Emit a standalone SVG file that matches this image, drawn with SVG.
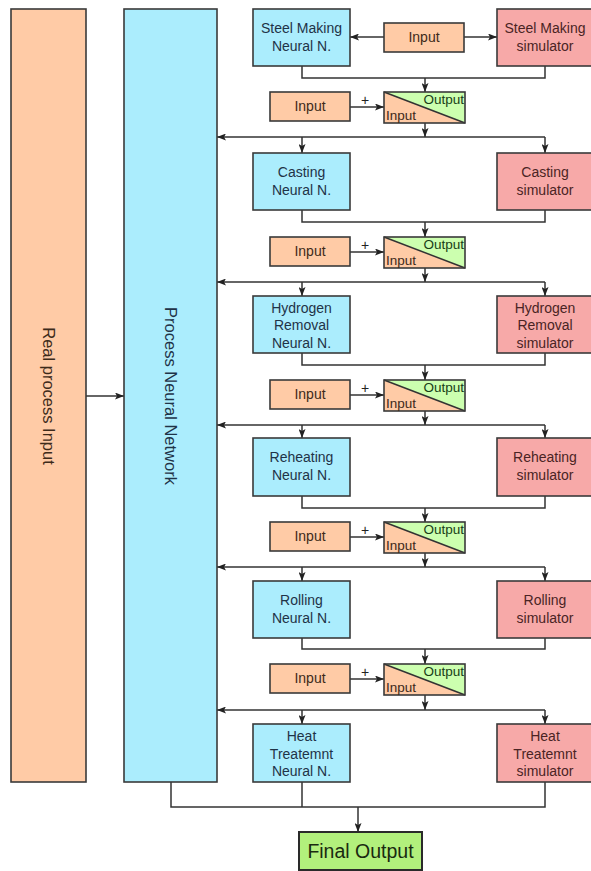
<svg xmlns="http://www.w3.org/2000/svg" width="591" height="871" viewBox="0 0 591 871">
<defs>
<marker id="ah" markerUnits="userSpaceOnUse" markerWidth="9" markerHeight="7" refX="9" refY="3.5" orient="auto">
<path d="M0,0 L9,3.5 L0,7 L2,3.5 z" fill="#222"/>
</marker>
<style>
.box{stroke:#3a3a3a;stroke-width:1.6}
.nn{fill:#abedfd}
.sim{fill:#f7a9a8}
.inp{fill:#ffcba6}
.grn{fill:#ccffaf}
.t{font-family:"Liberation Sans",Arial,sans-serif;font-size:14px;text-anchor:middle}
.tn{fill:#1f3347}
.ts{fill:#4a2424}
.ti{fill:#3d2a1a}
.so{font-family:"Liberation Sans",Arial,sans-serif;font-size:13.5px;fill:#174017;text-anchor:end}
.si{font-family:"Liberation Sans",Arial,sans-serif;font-size:13.5px;fill:#3d2a1a}
.pl{font-family:"Liberation Sans",Arial,sans-serif;font-size:14px;fill:#222;text-anchor:middle}
.c{fill:none;stroke:#333;stroke-width:1.5}
.a{fill:none;stroke:#333;stroke-width:1.5;marker-end:url(#ah)}
</style>
</defs>
<rect width="591" height="871" fill="#fff"/>

<g id="connectors">
<path class="a" d="M86,396 H124"/>
<path class="a" d="M384,37 H350"/>
<path class="a" d="M464,37 H497"/>
<!-- row 0 -->
<path class="c" d="M302,66 V78 H545 V66"/>
<path class="a" d="M425,78 V92"/>
<path class="a" d="M350,107 H384"/>
<path class="a" d="M425,123 V137"/>
<path class="a" d="M545,137 H217"/>
<path class="a" d="M302,137 V153"/>
<path class="a" d="M545,137 V153"/>
<!-- row 1 -->
<path class="c" d="M302,210 V222 H545 V210"/>
<path class="a" d="M425,222 V237"/>
<path class="a" d="M350,252 H384"/>
<path class="a" d="M425,268 V282"/>
<path class="a" d="M545,282 H217"/>
<path class="a" d="M302,282 V296"/>
<path class="a" d="M545,282 V296"/>
<!-- row 2 -->
<path class="c" d="M302,353 V365 H545 V353"/>
<path class="a" d="M425,365 V380"/>
<path class="a" d="M350,395 H384"/>
<path class="a" d="M425,411 V425"/>
<path class="a" d="M545,425 H217"/>
<path class="a" d="M302,425 V438"/>
<path class="a" d="M545,425 V438"/>
<!-- row 3 -->
<path class="c" d="M302,496 V508 H545 V496"/>
<path class="a" d="M425,508 V522"/>
<path class="a" d="M350,537 H384"/>
<path class="a" d="M425,553 V567"/>
<path class="a" d="M545,567 H217"/>
<path class="a" d="M302,567 V581"/>
<path class="a" d="M545,567 V581"/>
<!-- row 4 -->
<path class="c" d="M302,638 V649 H545 V638"/>
<path class="a" d="M425,649 V664"/>
<path class="a" d="M350,679 H384"/>
<path class="a" d="M425,695 V710"/>
<path class="a" d="M545,710 H217"/>
<path class="a" d="M302,710 V724"/>
<path class="a" d="M545,710 V724"/>
<!-- final -->
<path class="c" d="M171,782 V807 H545 V782"/>
<path class="c" d="M302,782 V807"/>
<path class="a" d="M358,807 V832"/>
<text class="pl" x="365" y="105">+</text>
<text class="pl" x="365" y="250">+</text>
<text class="pl" x="365" y="393">+</text>
<text class="pl" x="365" y="535">+</text>
<text class="pl" x="365" y="677">+</text>
</g>

<g id="real-process-input">
<rect class="box inp" x="11" y="9" width="75" height="773"/>
<text class="t ti" style="font-size:16.5px" transform="translate(48.5,396) rotate(90)" dominant-baseline="central">Real process Input</text>
</g>
<g id="process-neural-network">
<rect class="box nn" x="124" y="9" width="93" height="773"/>
<text class="t tn" style="font-size:16.5px" transform="translate(170.5,396) rotate(90)" dominant-baseline="central">Process Neural Network</text>
</g>

<g id="steel-nn"><rect class="box nn" x="253" y="9" width="97" height="57"/>
<text class="t tn" x="301.5" y="33">Steel Making</text><text class="t tn" x="301.5" y="51">Neural N.</text></g>
<g id="steel-input"><rect class="box inp" x="384" y="23" width="80" height="29"/>
<text class="t ti" x="424" y="42">Input</text></g>
<g id="steel-sim"><rect class="box sim" x="497" y="9" width="100" height="57"/>
<text class="t ts" x="545" y="33">Steel Making</text><text class="t ts" x="545" y="51">simulator</text></g>

<g id="input-1"><rect class="box inp" x="270" y="92" width="80" height="29"/><text class="t ti" x="310" y="111">Input</text></g>
<g id="sum-1"><rect class="inp" x="384" y="92" width="81" height="31"/><polygon class="grn" points="384,92 465,92 465,123"/><path class="c" d="M384,92 L465,123"/><rect class="box" fill="none" x="384" y="92" width="81" height="31"/>
<text class="so" x="464" y="104">Output</text><text class="si" x="386" y="120">Input</text></g>

<g id="casting-nn"><rect class="box nn" x="253" y="153" width="97" height="57"/>
<text class="t tn" x="301.5" y="177">Casting</text><text class="t tn" x="301.5" y="195">Neural N.</text></g>
<g id="casting-sim"><rect class="box sim" x="497" y="153" width="100" height="57"/>
<text class="t ts" x="545" y="177">Casting</text><text class="t ts" x="545" y="195">simulator</text></g>

<g id="input-2"><rect class="box inp" x="270" y="237" width="80" height="29"/><text class="t ti" x="310" y="256">Input</text></g>
<g id="sum-2"><rect class="inp" x="384" y="237" width="81" height="31"/><polygon class="grn" points="384,237 465,237 465,268"/><path class="c" d="M384,237 L465,268"/><rect class="box" fill="none" x="384" y="237" width="81" height="31"/>
<text class="so" x="464" y="249">Output</text><text class="si" x="386" y="265">Input</text></g>

<g id="hydrogen-nn"><rect class="box nn" x="253" y="296" width="97" height="57"/>
<text class="t tn" x="301.5" y="312.5">Hydrogen</text><text class="t tn" x="301.5" y="330">Removal</text><text class="t tn" x="301.5" y="347.5">Neural N.</text></g>
<g id="hydrogen-sim"><rect class="box sim" x="497" y="296" width="100" height="57"/>
<text class="t ts" x="545" y="312.5">Hydrogen</text><text class="t ts" x="545" y="330">Removal</text><text class="t ts" x="545" y="347.5">simulator</text></g>

<g id="input-3"><rect class="box inp" x="270" y="380" width="80" height="29"/><text class="t ti" x="310" y="399">Input</text></g>
<g id="sum-3"><rect class="inp" x="384" y="380" width="81" height="31"/><polygon class="grn" points="384,380 465,380 465,411"/><path class="c" d="M384,380 L465,411"/><rect class="box" fill="none" x="384" y="380" width="81" height="31"/>
<text class="so" x="464" y="392">Output</text><text class="si" x="386" y="408">Input</text></g>

<g id="reheating-nn"><rect class="box nn" x="253" y="438" width="97" height="58"/>
<text class="t tn" x="301.5" y="462">Reheating</text><text class="t tn" x="301.5" y="480">Neural N.</text></g>
<g id="reheating-sim"><rect class="box sim" x="497" y="438" width="100" height="58"/>
<text class="t ts" x="545" y="462">Reheating</text><text class="t ts" x="545" y="480">simulator</text></g>

<g id="input-4"><rect class="box inp" x="270" y="522" width="80" height="29"/><text class="t ti" x="310" y="541">Input</text></g>
<g id="sum-4"><rect class="inp" x="384" y="522" width="81" height="31"/><polygon class="grn" points="384,522 465,522 465,553"/><path class="c" d="M384,522 L465,553"/><rect class="box" fill="none" x="384" y="522" width="81" height="31"/>
<text class="so" x="464" y="534">Output</text><text class="si" x="386" y="550">Input</text></g>

<g id="rolling-nn"><rect class="box nn" x="253" y="581" width="97" height="57"/>
<text class="t tn" x="301.5" y="605">Rolling</text><text class="t tn" x="301.5" y="623">Neural N.</text></g>
<g id="rolling-sim"><rect class="box sim" x="497" y="581" width="100" height="57"/>
<text class="t ts" x="545" y="605">Rolling</text><text class="t ts" x="545" y="623">simulator</text></g>

<g id="input-5"><rect class="box inp" x="270" y="664" width="80" height="29"/><text class="t ti" x="310" y="683">Input</text></g>
<g id="sum-5"><rect class="inp" x="384" y="664" width="81" height="31"/><polygon class="grn" points="384,664 465,664 465,695"/><path class="c" d="M384,664 L465,695"/><rect class="box" fill="none" x="384" y="664" width="81" height="31"/>
<text class="so" x="464" y="676">Output</text><text class="si" x="386" y="692">Input</text></g>

<g id="heat-nn"><rect class="box nn" x="253" y="724" width="97" height="58"/>
<text class="t tn" x="301.5" y="741">Heat</text><text class="t tn" x="301.5" y="758.5">Treatemnt</text><text class="t tn" x="301.5" y="776">Neural N.</text></g>
<g id="heat-sim"><rect class="box sim" x="497" y="724" width="100" height="58"/>
<text class="t ts" x="545" y="741">Heat</text><text class="t ts" x="545" y="758.5">Treatemnt</text><text class="t ts" x="545" y="776">simulator</text></g>

<g id="final-output"><rect fill="#b2f07c" stroke="#2a2a2a" stroke-width="2" x="299" y="832" width="123" height="38"/>
<text class="t" style="font-size:19.5px;fill:#1a2a10" x="360.5" y="858">Final Output</text></g>
</svg>
